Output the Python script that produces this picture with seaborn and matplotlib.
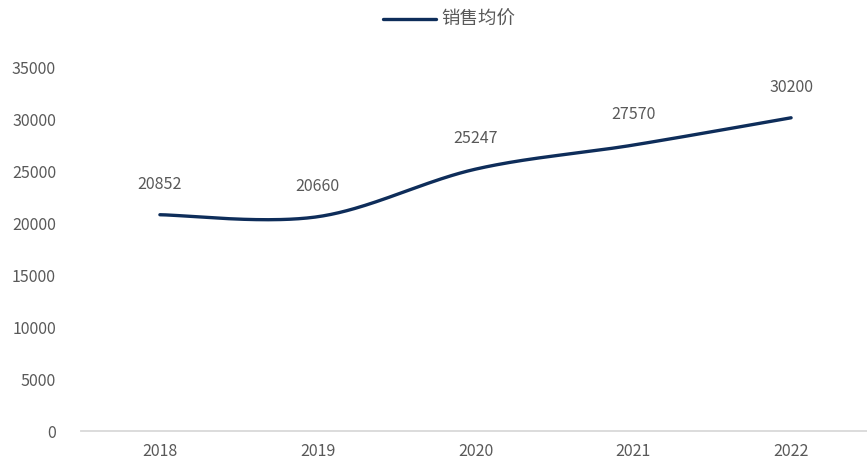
import numpy as np
import pandas as pd
import matplotlib
matplotlib.use("Agg")
import matplotlib.pyplot as plt
import seaborn as sns

years = ["2018", "2019", "2020", "2021", "2022"]
avg_price = [20852, 20660, 25247, 27570, 30200]
series_name = "销售均价"
y_ticks = [0, 5000, 10000, 15000, 20000, 25000, 30000, 35000]

LINE_COLOR = "#0E2D5A"
TEXT_COLOR = "#595959"

sns.set_theme(style="white")
plt.rcParams["font.family"] = ["Noto Sans CJK SC", "DejaVu Sans"]


def catmull_rom(xs, ys, n=60):
    """Smooth curve through the points (end points duplicated)."""
    px = np.concatenate([[xs[0]], xs, [xs[-1]]]).astype(float)
    py = np.concatenate([[ys[0]], ys, [ys[-1]]]).astype(float)
    out_x, out_y = [], []
    for i in range(1, len(px) - 2):
        t = np.linspace(0, 1, n, endpoint=(i == len(px) - 3))
        # Bezier control points
        b0x, b0y = px[i], py[i]
        b3x, b3y = px[i + 1], py[i + 1]
        b1x = px[i] + (px[i + 1] - px[i - 1]) / 6
        b1y = py[i] + (py[i + 1] - py[i - 1]) / 6
        b2x = px[i + 1] - (px[i + 2] - px[i]) / 6
        b2y = py[i + 1] - (py[i + 2] - py[i]) / 6
        mt = 1 - t
        out_x.append(mt**3 * b0x + 3 * mt**2 * t * b1x + 3 * mt * t**2 * b2x + t**3 * b3x)
        out_y.append(mt**3 * b0y + 3 * mt**2 * t * b1y + 3 * mt * t**2 * b2y + t**3 * b3y)
    return np.concatenate(out_x), np.concatenate(out_y)


xpos = np.arange(len(years))
sx, sy = catmull_rom(xpos, np.array(avg_price))
smooth = pd.DataFrame({"x": sx, "y": sy, "series": series_name})

fig = plt.figure(figsize=(8.67, 4.59), dpi=100)
ax = fig.add_axes([81 / 867, 28 / 459, 789 / 867, 363 / 459])

sns.lineplot(data=smooth, x="x", y="y", hue="series", palette=[LINE_COLOR],
             linewidth=2.4, ax=ax, sort=False, estimator=None, legend=True)

for x, v in zip(xpos, avg_price):
    ax.annotate(f"{v}", (x, v), xytext=(0, 22), textcoords="offset points",
                ha="center", va="center", fontsize=11.5, color=TEXT_COLOR)

ax.set_xlim(-0.5, len(years) - 0.5)
ax.set_ylim(0, 35000)
ax.set_xticks(xpos)
ax.set_xticklabels(years)
ax.set_yticks(y_ticks)
ax.set_yticklabels([str(t) for t in y_ticks])
ax.set_xlabel("")
ax.set_ylabel("")
ax.tick_params(axis="y", length=0, pad=18, labelsize=11.5, labelcolor=TEXT_COLOR)
ax.tick_params(axis="x", length=0, pad=9, labelsize=11.5, labelcolor=TEXT_COLOR)
for side in ["left", "right", "top"]:
    ax.spines[side].set_visible(False)
ax.spines["bottom"].set_color("#D9D9D9")
ax.spines["bottom"].set_linewidth(1.3)
ax.grid(False)

handles, labels = ax.get_legend_handles_labels()
ax.get_legend().remove()
fig.legend(handles, labels, loc="center", bbox_to_anchor=(449 / 867, 1 - 20 / 459),
           frameon=False, fontsize=13.3, handlelength=2.9, handletextpad=0.25,
           labelcolor=TEXT_COLOR)

fig.savefig("out.png", dpi=100)
